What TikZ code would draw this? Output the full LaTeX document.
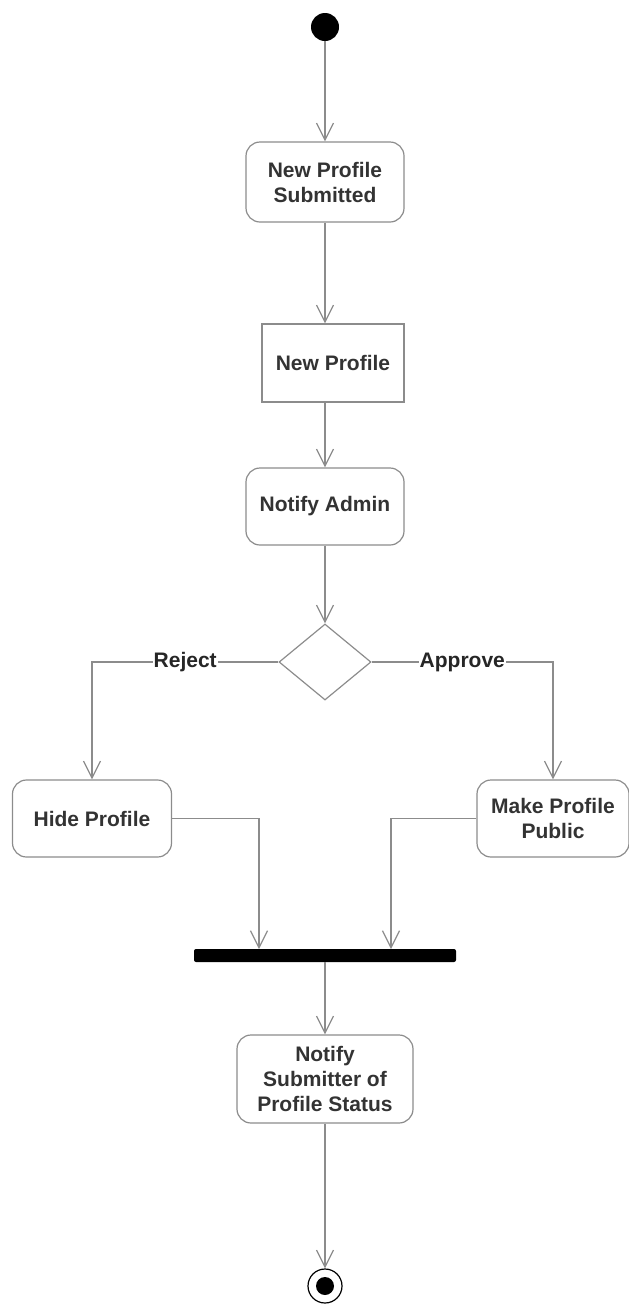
\documentclass[tikz,border=0pt]{standalone}
\usepackage{fontspec}
\setmainfont{Liberation Sans}
\usetikzlibrary{shapes.geometric,arrows.meta}

\begin{document}
\begin{tikzpicture}[x=1pt,y=-1pt,>={Straight Barb[length=17pt,width=17pt]},font=\fontsize{21}{25}\selectfont\bfseries]
        \tikzstyle{activity}=[rectangle,rounded corners=14pt,draw=black!45,line width=1.2pt,text=black!80,align=center,inner sep=2pt]
        \tikzstyle{object}=[rectangle,draw=black!45,line width=1.2pt,text=black!80,align=center,inner sep=2pt]
        \tikzstyle{edge}=[draw=black!45,line width=1.2pt,->]
        \tikzstyle{guard}=[fill=white,text=black!85,inner sep=1pt]
        \useasboundingbox (0,0) rectangle (629,1304);
       \begin{scope}
         \node [circle,fill=black,minimum size=28pt,inner sep=0pt] (start) at (325,27) {};
         \node [activity,minimum width=158pt,minimum height=80pt] (submitted) at (325,182) {New Profile\\Submitted};
         \node [object,minimum width=142pt,minimum height=78pt] (newprofile) at (333,363) {New Profile};
         \node [activity,minimum width=158pt,minimum height=77pt] (admin) at (325,506.5) {Notify Admin};
         \node [diamond,draw=black!45,line width=1.2pt,aspect=1.22,minimum width=92pt,minimum height=76pt,inner sep=0pt] (decision) at (325,662) {};
         \node [activity,minimum width=159pt,minimum height=77pt] (hide) at (92,818.5) {Hide Profile};
         \node [activity,minimum width=152pt,minimum height=77pt] (public) at (553,818.5) {Make Profile\\Public};
         \node [rectangle,fill=black,rounded corners=2pt,minimum width=262pt,minimum height=13pt,inner sep=0pt] (join) at (325,955.5) {};
         \coordinate (joinleft) at (259,949);
         \coordinate (joinright) at (391,949);
         \node [activity,minimum width=176pt,minimum height=88pt] (notify) at (325,1079) {Notify\\Submitter of\\Profile Status};
         \node [circle,draw=black,line width=1.2pt,minimum size=34pt,inner sep=0pt] (finish) at (325,1286) {};
         \node [circle,fill=black,minimum size=18pt,inner sep=0pt] (finishdot) at (finish) {};

         \path[edge] (start) -- (submitted);
         \path[edge] (submitted) -- (submitted |- newprofile.north);
         \path[edge] (admin |- newprofile.south) -- (admin);
         \path[edge] (admin) -- (decision);
         \path[edge] (decision.west) -| node[guard,pos=0.25] {Reject} (hide);
         \path[edge] (decision.east) -| node[guard,pos=0.25] {Approve} (public);
         \path[edge] (hide) -| (joinleft);
         \path[edge] (public) -| (joinright);
         \path[edge] (join) -- (notify);
         \path[edge] (notify) -- (finish);
        \end{scope}
      \end{tikzpicture}
\end{document}
